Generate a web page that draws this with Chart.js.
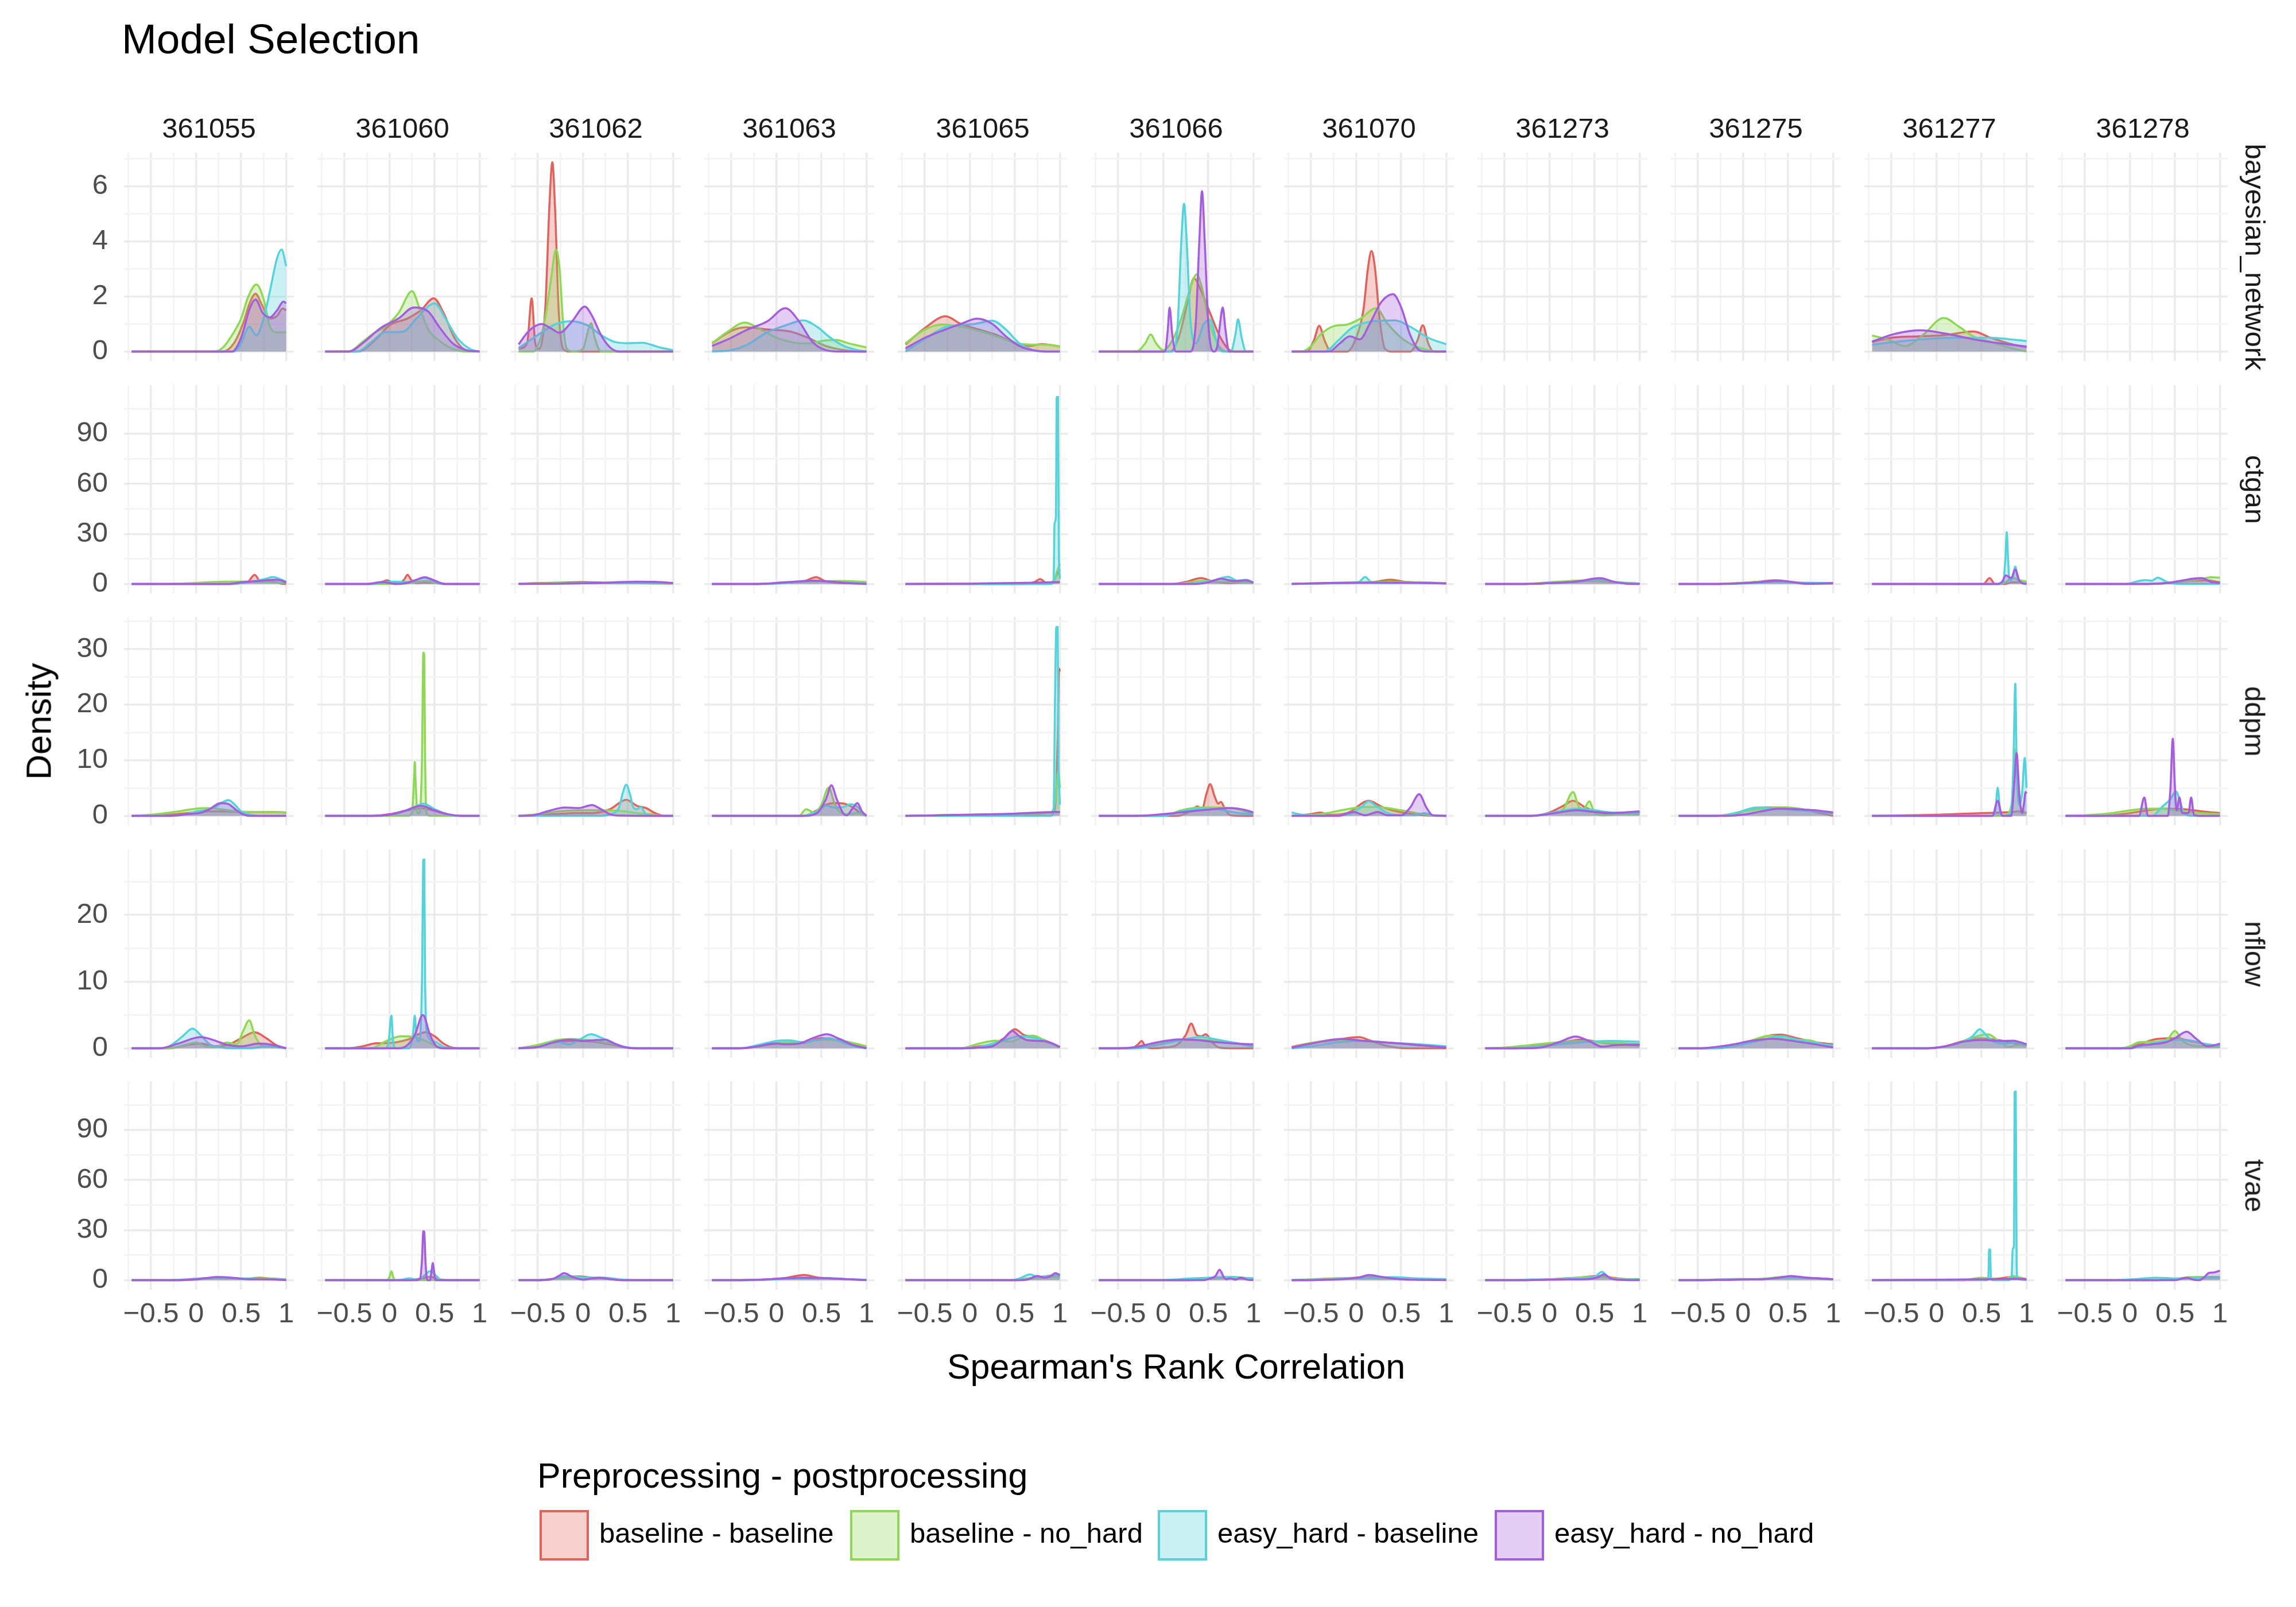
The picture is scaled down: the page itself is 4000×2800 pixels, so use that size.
<!DOCTYPE html>
<html>
<head>
<meta charset="utf-8">
<script src="https://cdn.jsdelivr.net/npm/chart.js@4.4.1/dist/chart.umd.min.js"></script>
<style>
  html, body { margin:0; padding:0; background:#fff; }
  body { width:4000px; height:2800px; position:relative; overflow:hidden; font-family:"Liberation Sans", Arial, sans-serif; }
  canvas { position:absolute; }
  .t { position:absolute; white-space:nowrap; line-height:1; }
</style>
</head>
<body>
<script>
// facet labels
const datasetIds = ['361055','361060','361062','361063','361065','361066','361070','361273','361275','361277','361278'];
const models = ['bayesian_network','ctgan','ddpm','nflow','tvae'];
const seriesNames = ['baseline - baseline','baseline - no_hard','easy_hard - baseline','easy_hard - no_hard'];

// axis ticks (grid positions) and the labelled ones
const xGrid = [-0.75,-0.5,-0.25,0,0.25,0.5,0.75,1];
const xMajor = [-0.5,0,0.5,1];
const yGrid = [[0,1,2,3,4,5,6,7],[0,15,30,45,60,75,90,105],[0,5,10,15,20,25,30,35],[0,5,10,15,20,25],[0,15,30,45,60,75,90,105]];
const yMajor = [[0,2,4,6],[0,30,60,90],[0,10,20,30],[0,10,20],[0,30,60,90]];
const yTop = [6.87, 113.5, 34.1, 28.4, 113.5];
const xLo = -0.715, xHi = 1.0;

// density curves, one entry per dataset id (null = no data), points are [x, density]
const bayesBB = [
  [[-0.715,0],[0.3,0],[0.42,0.3],[0.52,1.0],[0.6,1.8],[0.66,2.1],[0.73,1.7],[0.82,1.2],[0.9,1.3],[0.96,1.56],[1,1.5]],
  [[-0.715,0],[-0.35,0],[-0.15,0.45],[0,0.95],[0.2,1.2],[0.35,1.5],[0.49,1.93],[0.6,1.4],[0.72,0.5],[0.85,0.05],[1,0]],
  [[-0.715,0.1],[-0.62,0.3],[-0.57,1.93],[-0.53,0.3],[-0.49,0.1],[-0.42,1.5],[-0.37,5.5],[-0.34,6.87],[-0.31,5.2],[-0.27,1.5],[-0.22,0.1],[-0.15,0],[1,0]],
  [[-0.715,0.3],[-0.5,0.75],[-0.34,0.88],[-0.1,0.8],[0.15,0.73],[0.35,0.5],[0.55,0.2],[0.75,0.05],[0.9,0],[1,0]],
  [[-0.715,0.26],[-0.5,0.85],[-0.27,1.28],[-0.1,1.0],[0.1,0.8],[0.3,0.6],[0.5,0.3],[0.65,0.2],[0.8,0.27],[1,0.18]],
  [[-0.715,0],[0.08,0],[0.18,0.6],[0.27,1.8],[0.34,2.66],[0.42,2.2],[0.52,1.39],[0.62,0.6],[0.72,0.1],[0.8,0],[1,0]],
  [[-0.715,0],[-0.55,0],[-0.47,0.4],[-0.41,0.93],[-0.35,0.4],[-0.28,0],[-0.1,0],[0,0.5],[0.08,1.5],[0.13,3.0],[0.17,3.65],[0.21,3.0],[0.26,1.2],[0.32,0.1],[0.4,0],[0.6,0],[0.68,0.4],[0.74,0.95],[0.8,0.3],[0.86,0],[1,0]],
  null,
  null,
  [[-0.715,0.35],[-0.5,0.5],[-0.2,0.55],[0.1,0.6],[0.41,0.73],[0.6,0.5],[0.8,0.3],[1,0.15]],
  null
];
const bayesBN = [
  [[-0.715,0],[0.2,0],[0.3,0.15],[0.4,0.6],[0.5,1.2],[0.58,2.0],[0.67,2.43],[0.75,1.9],[0.82,0.9],[0.9,0.7],[1,0.7]],
  [[-0.715,0],[-0.45,0],[-0.3,0.35],[-0.18,0.65],[-0.05,0.9],[0.1,1.4],[0.25,2.19],[0.33,1.6],[0.43,0.8],[0.55,0.4],[0.7,0.1],[0.85,0],[1,0]],
  [[-0.715,0],[-0.55,0],[-0.48,0.4],[-0.42,1.2],[-0.36,2.5],[-0.3,3.7],[-0.26,3.0],[-0.22,1.0],[-0.18,0.1],[-0.1,0],[0,0.1],[0.06,0.8],[0.09,1.03],[0.13,0.5],[0.2,0],[1,0]],
  [[-0.715,0.3],[-0.55,0.7],[-0.35,1.05],[-0.2,0.85],[0,0.5],[0.2,0.32],[0.35,0.29],[0.5,0.38],[0.66,0.42],[0.8,0.3],[1,0.15]],
  [[-0.715,0.3],[-0.5,0.8],[-0.3,0.98],[-0.1,0.9],[0.1,0.75],[0.3,0.55],[0.5,0.32],[0.7,0.25],[0.85,0.25],[1,0.18]],
  [[-0.715,0],[-0.3,0],[-0.2,0.3],[-0.14,0.62],[-0.08,0.3],[0,0.05],[0.1,0.4],[0.2,1.2],[0.3,2.3],[0.37,2.8],[0.43,2.3],[0.5,1.2],[0.6,0.3],[0.7,0],[1,0]],
  [[-0.715,0],[-0.6,0],[-0.5,0.2],[-0.4,0.6],[-0.25,0.92],[-0.1,0.98],[0.05,1.2],[0.22,1.57],[0.35,1.0],[0.5,0.5],[0.65,0.2],[0.8,0.05],[0.9,0],[1,0]],
  null,
  null,
  [[-0.715,0.58],[-0.55,0.45],[-0.35,0.2],[-0.15,0.6],[0.08,1.22],[0.25,0.9],[0.41,0.55],[0.6,0.35],[0.8,0.15],[1,0]],
  null
];
const bayesEB = [
  [[-0.715,0],[0.42,0],[0.5,0.3],[0.59,0.9],[0.67,0.59],[0.75,1.2],[0.82,2.2],[0.9,3.4],[0.95,3.7],[1,3.1]],
  [[-0.715,0],[-0.35,0],[-0.2,0.35],[-0.05,0.7],[0.15,0.72],[0.3,1.2],[0.5,1.75],[0.62,1.2],[0.75,0.5],[0.9,0.08],[1,0]],
  [[-0.715,0.12],[-0.5,0.6],[-0.3,1.0],[-0.13,1.1],[0.05,0.95],[0.2,0.6],[0.35,0.35],[0.5,0.3],[0.66,0.32],[0.85,0.15],[1,0.05]],
  [[-0.715,0],[-0.5,0.05],[-0.34,0.22],[-0.1,0.7],[0.1,0.95],[0.3,1.13],[0.45,0.9],[0.6,0.5],[0.75,0.2],[0.9,0.05],[1,0]],
  [[-0.715,0],[-0.5,0.45],[-0.3,0.85],[-0.1,0.97],[0.05,1.0],[0.25,1.12],[0.4,0.8],[0.55,0.3],[0.7,0.05],[0.8,0],[1,0]],
  [[-0.715,0],[0.1,0],[0.16,1.0],[0.2,4.0],[0.23,5.36],[0.26,4.0],[0.3,1.2],[0.36,0.3],[0.45,1.0],[0.52,1.15],[0.6,0.3],[0.66,0],[0.75,0],[0.8,0.6],[0.83,1.17],[0.87,0.5],[0.92,0],[1,0]],
  [[-0.715,0],[-0.35,0],[-0.2,0.4],[-0.05,0.85],[0.15,1.08],[0.43,1.13],[0.6,0.9],[0.8,0.5],[1,0.26]],
  null,
  null,
  [[-0.715,0.25],[-0.3,0.4],[0.2,0.5],[0.6,0.5],[0.8,0.45],[1,0.38]],
  null
];
const bayesEN = [
  [[-0.715,0],[0.4,0],[0.5,0.5],[0.6,1.6],[0.66,1.89],[0.74,1.4],[0.82,1.24],[0.9,1.5],[0.97,1.81],[1,1.75]],
  [[-0.715,0],[-0.45,0],[-0.3,0.3],[-0.1,0.85],[0.1,1.2],[0.27,1.6],[0.43,1.45],[0.55,0.9],[0.7,0.3],[0.85,0.05],[1,0]],
  [[-0.715,0.26],[-0.6,0.75],[-0.46,1.0],[-0.36,0.85],[-0.26,0.68],[-0.12,1.1],[0.02,1.63],[0.1,1.3],[0.2,0.6],[0.3,0.15],[0.4,0],[1,0]],
  [[-0.715,0.2],[-0.5,0.5],[-0.34,0.77],[-0.1,1.1],[0.1,1.57],[0.25,1.1],[0.4,0.35],[0.55,0.05],[0.7,0],[1,0]],
  [[-0.715,0.11],[-0.5,0.5],[-0.27,0.8],[-0.1,1.0],[0.08,1.19],[0.25,1.0],[0.4,0.55],[0.55,0.2],[0.7,0.05],[0.85,0],[1,0]],
  [[-0.715,0],[0.02,0],[0.05,0.8],[0.07,1.6],[0.1,0.6],[0.14,0],[0.3,0],[0.36,1.0],[0.4,4.0],[0.43,5.82],[0.46,4.0],[0.5,1.0],[0.56,0],[0.6,0.2],[0.63,1.0],[0.66,1.6],[0.69,0.8],[0.73,0],[1,0]],
  [[-0.715,0],[-0.3,0],[-0.18,0.3],[-0.07,0.55],[0.04,0.44],[0.15,1.0],[0.28,1.8],[0.41,2.08],[0.5,1.6],[0.6,0.6],[0.7,0.05],[0.78,0],[1,0]],
  null,
  null,
  [[-0.715,0.36],[-0.45,0.65],[-0.18,0.77],[0.1,0.65],[0.4,0.45],[0.7,0.3],[1,0.18]],
  null
];

const ctganBB = [
  [[-0.715,0],[0.3,0],[0.5,0.5],[0.58,1.5],[0.65,5.5],[0.71,1.8],[0.8,1.5],[0.9,1.0],[0.95,0.2],[1,0]],
  [[-0.715,0],[-0.2,0],[-0.08,1.2],[-0.03,2.25],[0.03,1.0],[0.1,0.3],[0.16,2.5],[0.2,5.5],[0.24,2.5],[0.3,0.5],[0.4,0.8],[0.5,0.6],[0.6,0],[1,0]],
  [[-0.715,0.2],[-0.3,0.8],[0,1.1],[0.3,0.7],[0.6,0.4],[1,0.3]],
  [[-0.715,0],[-0.2,0],[0.1,0.8],[0.3,1.5],[0.44,4.0],[0.55,1.5],[0.7,0.5],[1,0.3]],
  [[-0.715,0],[0.6,0],[0.72,1.2],[0.78,2.9],[0.84,0.8],[0.88,0.3],[0.93,2],[0.97,6],[1,8.7]],
  [[-0.715,0],[0.1,0],[0.25,1.2],[0.42,3.5],[0.55,1.5],[0.74,0.5],[0.9,1.0],[1,0.8]],
  [[-0.715,0],[-0.4,0.3],[0,0.8],[0.2,1.2],[0.38,2.6],[0.55,1.2],[0.8,0.8],[1,0.3]],
  [[-0.715,0],[-0.3,0],[0,0.5],[0.3,1.5],[0.5,2.0],[0.7,1.0],[1,0.2]],
  [[-0.715,0],[-0.3,0],[0,0.6],[0.2,1.5],[0.37,2.2],[0.55,1.0],[0.7,0.2],[1,0.3]],
  [[-0.715,0],[0.52,0],[0.59,3.5],[0.65,0],[0.75,0],[0.85,1.0],[0.95,1.0],[1,0.5]],
  [[-0.715,0],[0.2,0],[0.45,0.8],[0.7,2.0],[0.85,2.2],[1,1.0]]
];
const ctganBN = [
  [[-0.715,0],[-0.3,0],[0,0.6],[0.3,1.4],[0.6,1.5],[0.8,1.0],[1,0.6]],
  [[-0.715,0],[0.1,0],[0.3,1.2],[0.4,1.8],[0.5,0.8],[0.6,0],[1,0]],
  [[-0.715,0.2],[-0.3,0.6],[0,0.5],[0.5,0.5],[1,0.3]],
  [[-0.715,0],[-0.2,0],[0.1,1.0],[0.4,1.5],[0.7,1.8],[1,1.2]],
  [[-0.715,0],[0.85,0],[0.93,1],[0.97,8],[1,12]],
  [[-0.715,0],[0.15,0],[0.3,1.0],[0.45,1.8],[0.6,1.5],[0.8,1.2],[1,0.5]],
  [[-0.715,0],[-0.4,0.5],[0,1.0],[0.4,1.3],[0.7,1.0],[1,0.5]],
  [[-0.715,0],[-0.3,0],[0,1.0],[0.3,2.0],[0.5,2.2],[0.7,1.2],[1,0.3]],
  [[-0.715,0],[-0.3,0],[0,0.8],[0.3,1.5],[0.5,1.2],[0.7,0.5],[1,0.3]],
  [[-0.715,0],[0.7,0],[0.78,1.5],[0.84,4.0],[0.9,2.5],[0.95,2.0],[1,1.5]],
  [[-0.715,0],[0.2,0],[0.45,0.5],[0.64,1.7],[0.8,3.0],[0.9,4.0],[1,3.8]]
];
const ctganEB = [
  [[-0.715,0],[0.4,0],[0.5,0.5],[0.65,1.8],[0.78,3.2],[0.85,4.2],[0.93,3.0],[1,1.4]],
  [[-0.715,0],[-0.2,0],[-0.05,1.2],[0.05,1.4],[0.2,1.2],[0.3,2.5],[0.39,3.8],[0.48,2.0],[0.57,0.2],[0.65,0],[1,0]],
  [[-0.715,0],[-0.3,0.2],[0,0.4],[0.4,0.8],[0.7,0.9],[1,0.4]],
  [[-0.715,0],[-0.1,0],[0.2,1.0],[0.45,1.8],[0.7,1.0],[1,0.3]],
  [[-0.715,0],[0.9,0],[0.93,2],[0.94,36],[0.955,40],[0.965,112],[0.978,112],[0.988,20],[1,3]],
  [[-0.715,0],[0.2,0],[0.4,0.8],[0.55,2.0],[0.72,4.3],[0.82,2.0],[0.92,2.5],[1,1.0]],
  [[-0.715,0],[-0.4,0.3],[-0.1,0.7],[0.03,1.2],[0.1,4.2],[0.17,1.0],[0.3,0.6],[0.6,0.7],[1,0.4]],
  [[-0.715,0],[-0.3,0],[0,0.5],[0.3,1.2],[0.56,3.0],[0.75,1.0],[1,0.2]],
  [[-0.715,0],[-0.2,0],[0.1,0.5],[0.4,1.2],[0.6,0.8],[0.8,0.7],[1,0.5]],
  [[-0.715,0],[0.7,0],[0.74,1],[0.765,15],[0.78,31],[0.795,15],[0.81,2],[0.84,3],[0.875,10.4],[0.9,4],[0.93,1],[1,0.5]],
  [[-0.715,0],[-0.05,0],[0.1,1.8],[0.17,2.3],[0.24,2.0],[0.31,3.8],[0.4,1.5],[0.5,0.2],[0.7,0],[1,0]]
];
const ctganEN = [
  [[-0.715,0],[0.35,0],[0.5,1.0],[0.7,1.8],[0.89,2.6],[0.95,2.0],[1,0.9]],
  [[-0.715,0],[-0.25,0],[-0.08,1.2],[0.08,0],[0.2,0.8],[0.3,2.5],[0.39,4.0],[0.48,2.5],[0.57,0.5],[0.62,0],[1,0]],
  [[-0.715,0],[-0.3,0.2],[0,0.4],[0.3,0.9],[0.6,1.4],[0.8,1.3],[1,0.6]],
  [[-0.715,0],[-0.2,0],[0.1,1.0],[0.4,2.0],[0.6,1.5],[0.8,0.5],[1,0]],
  [[-0.715,0],[0,0.2],[0.9,1.0],[1,1.2]],
  [[-0.715,0],[0.35,0],[0.5,1.0],[0.64,3.1],[0.8,1.7],[0.92,2.2],[1,0.8]],
  [[-0.715,0.1],[-0.3,0.6],[0.3,0.9],[0.7,0.7],[1,0.3]],
  [[-0.715,0],[-0.3,0],[0,0.5],[0.3,1.5],[0.56,3.5],[0.7,1.5],[0.85,0.2],[1,0]],
  [[-0.715,0],[-0.3,0],[0,0.5],[0.2,1.2],[0.4,2.0],[0.55,1.2],[0.7,0.2],[0.85,0.3],[1,0.5]],
  [[-0.715,0],[0.68,0],[0.73,1.5],[0.77,5.2],[0.83,3.5],[0.875,8.7],[0.92,2.0],[0.96,0.3],[1,0]],
  [[-0.715,0],[0.2,0],[0.4,0.5],[0.55,1.8],[0.7,3.2],[0.8,3.5],[0.9,1.2],[1,0.7]]
];

const ddpmBB = [
  [[-0.715,0],[-0.4,0.1],[-0.1,0.5],[0.1,0.8],[0.3,0.8],[0.5,0.7],[0.8,0.7],[1,0.6]],
  [[-0.715,0],[-0.2,0],[0,0.3],[0.2,1.0],[0.35,1.4],[0.5,0.9],[0.65,0.2],[0.8,0],[1,0]],
  [[-0.715,0],[-0.5,0.1],[-0.3,0.3],[-0.1,0.5],[0.1,0.5],[0.3,1.2],[0.48,2.9],[0.6,1.8],[0.7,1.4],[0.8,0.5],[0.9,0],[1,0]],
  [[-0.715,0],[0.3,0],[0.45,1.0],[0.55,2.0],[0.65,2.3],[0.75,2.2],[0.85,1.5],[0.95,0.3],[1,0]],
  [[-0.715,0],[0.5,0.3],[0.9,0.6],[0.94,1],[0.96,5],[0.975,14],[0.99,26.5],[1,26]],
  [[-0.715,0],[0.15,0],[0.3,0.8],[0.38,1.7],[0.43,1.2],[0.48,4.0],[0.52,5.7],[0.57,3.5],[0.61,2.2],[0.64,2.5],[0.69,1.0],[0.75,0.1],[1,0]],
  [[-0.715,0],[-0.5,0.3],[-0.4,0.6],[-0.3,0.2],[-0.1,0.5],[0.14,2.7],[0.3,1.5],[0.45,0.8],[0.6,0.4],[0.75,0.1],[1,0]],
  [[-0.715,0],[-0.2,0],[0,0.6],[0.15,1.8],[0.26,2.7],[0.4,1.5],[0.55,0.6],[0.7,0.3],[1,0.5]],
  [[-0.715,0],[-0.3,0],[-0.1,0.3],[0.1,1.3],[0.25,1.5],[0.45,1.5],[0.7,1.0],[1,0]],
  [[-0.715,0],[0,0.2],[0.5,0.5],[0.85,0.7],[0.9,0.8],[1,0.5]],
  [[-0.715,0],[-0.3,0],[0,0.5],[0.2,1.0],[0.35,1.3],[0.6,1.2],[0.8,0.8],[1,0.5]]
];
const ddpmBN = [
  [[-0.715,0],[-0.5,0.2],[-0.2,0.8],[0,1.3],[0.15,1.4],[0.35,1.0],[0.6,0.7],[0.8,0.7],[1,0.6]],
  [[-0.715,0],[0.2,0],[0.25,0.5],[0.27,6],[0.28,9.7],[0.29,6],[0.31,0.5],[0.33,0.5],[0.36,10],[0.375,29.4],[0.385,29],[0.395,10],[0.41,0.5],[0.45,0],[1,0]],
  [[-0.715,0],[-0.5,0.3],[-0.2,0.9],[0.1,1.0],[0.4,0.9],[0.6,0.5],[0.75,0.3],[0.9,0],[1,0]],
  [[-0.715,0],[0.25,0],[0.33,1.2],[0.42,0.6],[0.5,2.0],[0.58,5.1],[0.65,2.0],[0.72,0.5],[0.8,0.3],[0.9,0.5],[1,0]],
  [[-0.715,0],[0.5,0.3],[0.9,0.6],[0.95,3],[0.98,8],[1,5]],
  [[-0.715,0],[0,0],[0.2,1.0],[0.4,1.5],[0.6,1.5],[0.8,1.3],[0.95,0.6],[1,0.3]],
  [[-0.715,0],[-0.4,0.3],[-0.1,1.2],[0.1,1.6],[0.3,1.5],[0.5,1.0],[0.7,0.4],[0.9,0],[1,0]],
  [[-0.715,0],[-0.2,0],[0,0.5],[0.15,1.2],[0.26,4.3],[0.33,1.5],[0.38,1.3],[0.44,2.6],[0.5,0.6],[0.6,0.1],[0.8,0.3],[1,0.3]],
  [[-0.715,0],[-0.3,0],[0,0.8],[0.3,1.4],[0.5,1.5],[0.7,1.1],[1,0.5]],
  [[-0.715,0],[0.7,0],[0.8,0.5],[0.85,4],[0.88,12],[0.91,3],[1,0.5]],
  [[-0.715,0],[-0.5,0.1],[-0.2,0.5],[0.1,1.2],[0.3,1.3],[0.5,1.0],[0.7,0.6],[1,0.3]]
];
const ddpmEB = [
  [[-0.715,0],[-0.3,0],[-0.1,0.3],[0,0.8],[0.1,1.0],[0.2,1.5],[0.3,2.5],[0.36,2.84],[0.43,2.0],[0.5,0.8],[0.6,0.2],[0.7,0],[1,0]],
  [[-0.715,0],[-0.1,0],[0.1,0.5],[0.25,1.4],[0.38,2.2],[0.5,1.2],[0.65,0.2],[0.8,0],[1,0]],
  [[-0.715,0],[0.2,0],[0.3,0.3],[0.4,1.5],[0.44,4.0],[0.48,5.6],[0.52,4.0],[0.56,1.5],[0.6,1.2],[0.64,1.6],[0.7,0.3],[0.8,0],[1,0]],
  [[-0.715,0],[0.3,0],[0.45,0.8],[0.55,1.8],[0.65,1.5],[0.75,1.6],[0.82,2.1],[0.9,1.6],[0.96,0.5],[1,0]],
  [[-0.715,0],[0.9,0],[0.93,1],[0.945,20],[0.96,34],[0.975,34],[0.985,10],[1,2]],
  [[-0.715,0],[0,0],[0.2,0.8],[0.4,1.3],[0.6,1.2],[0.8,0.6],[1,0.3]],
  [[-0.715,0.6],[-0.6,0.2],[-0.4,0],[-0.1,0.2],[0.05,1.5],[0.14,2.6],[0.22,1.8],[0.35,0.5],[0.5,0.1],[0.65,0.1],[0.76,0.5],[0.85,0.1],[1,0]],
  [[-0.715,0],[-0.2,0],[0.1,0.8],[0.3,1.3],[0.5,1.0],[0.7,0.6],[1,0.6]],
  [[-0.715,0],[-0.3,0],[-0.1,0.4],[0.15,1.5],[0.35,1.3],[0.6,1.0],[0.8,0.8],[1,0.5]],
  [[-0.715,0],[0.6,0],[0.65,0.5],[0.68,5.1],[0.71,0.5],[0.78,0],[0.83,1],[0.855,10],[0.875,23.8],[0.89,10],[0.92,2],[0.95,4],[0.98,10.4],[1,5]],
  [[-0.715,0],[0.25,0],[0.35,1.5],[0.45,3.0],[0.51,4.4],[0.56,2.5],[0.6,0.5],[0.7,0],[1,0]]
];
const ddpmEN = [
  [[-0.715,0],[-0.3,0],[-0.1,0.3],[0.05,0.55],[0.15,1.2],[0.27,2.3],[0.36,2.1],[0.45,1.0],[0.52,0.3],[0.6,0],[1,0]],
  [[-0.715,0],[-0.2,0],[0,0.2],[0.15,0.8],[0.35,1.8],[0.5,1.0],[0.65,0.3],[0.8,0],[1,0]],
  [[-0.715,0],[-0.55,0.1],[-0.4,0.8],[-0.2,1.5],[-0.05,1.4],[0.1,1.95],[0.2,1.2],[0.3,0.3],[0.4,0.05],[1,0]],
  [[-0.715,0],[0.3,0],[0.45,0.5],[0.55,3.0],[0.61,5.5],[0.67,3.0],[0.74,0.5],[0.78,0.1],[0.84,1.2],[0.9,2.3],[0.95,0.8],[1,0]],
  [[-0.715,0],[0,0.2],[0.5,0.4],[0.95,0.7],[1,0.7]],
  [[-0.715,0],[-0.3,0],[0,0.3],[0.3,0.8],[0.55,1.2],[0.75,1.4],[0.9,1.1],[1,0.6]],
  [[-0.715,0],[-0.2,0],[-0.03,0.7],[0.1,0.1],[0.24,0.7],[0.35,0.1],[0.5,0.1],[0.6,1.5],[0.7,3.9],[0.78,1.5],[0.85,0.1],[1,0]],
  [[-0.715,0],[-0.2,0],[0.1,0.6],[0.3,1.0],[0.5,0.7],[0.7,0.5],[0.9,0.7],[1,0.8]],
  [[-0.715,0],[-0.2,0],[0,0.2],[0.2,0.8],[0.4,1.3],[0.6,1.2],[0.8,1.0],[1,0.6]],
  [[-0.715,0],[0.62,0],[0.68,2.7],[0.73,0],[0.83,0],[0.86,5],[0.89,11.3],[0.92,4],[0.95,0.5],[0.97,2],[0.99,4.3],[1,4]],
  [[-0.715,0],[0.1,0],[0.16,3.3],[0.2,0],[0.42,0],[0.45,5],[0.476,13.9],[0.5,5],[0.52,1],[0.55,3.3],[0.58,0.5],[0.65,0.5],[0.68,3.3],[0.71,0.2],[0.8,0],[1,0]]
];

const nflowBB = [
  [[-0.715,0],[-0.3,0],[-0.1,0.5],[0.05,0.7],[0.2,0.3],[0.35,0.5],[0.5,1.5],[0.65,2.4],[0.78,1.5],[0.9,0.4],[1,0]],
  [[-0.715,0],[-0.45,0],[-0.3,0.3],[-0.15,0.75],[0,0.8],[0.2,1.3],[0.4,2.4],[0.5,1.8],[0.6,0.7],[0.7,0.1],[0.8,0],[1,0]],
  [[-0.715,0],[-0.5,0.3],[-0.3,0.9],[-0.1,1.1],[0.1,1.0],[0.3,0.6],[0.45,0.2],[0.6,0],[1,0]],
  [[-0.715,0],[-0.4,0],[-0.1,0.5],[0.1,0.8],[0.3,0.8],[0.5,1.5],[0.65,1.3],[0.85,0.6],[1,0.1]],
  [[-0.715,0],[-0.1,0],[0.1,0.3],[0.25,0.6],[0.38,1.5],[0.5,2.86],[0.6,2.0],[0.75,1.6],[0.9,0.8],[1,0.2]],
  [[-0.715,0],[-0.35,0],[-0.28,0.6],[-0.24,1.1],[-0.2,0.3],[-0.12,0],[0,0.1],[0.15,0.5],[0.25,2.0],[0.31,3.7],[0.37,2.0],[0.42,1.8],[0.47,2.1],[0.55,0.8],[0.62,0.1],[0.75,0],[1,0]],
  [[-0.715,0.2],[-0.5,0.8],[-0.25,1.2],[0.03,1.67],[0.15,1.2],[0.3,0.5],[0.45,0.1],[0.6,0],[1,0]],
  [[-0.715,0],[-0.4,0],[-0.1,0.4],[0.2,1.0],[0.35,1.3],[0.6,0.8],[1,0.4]],
  [[-0.715,0],[-0.4,0],[-0.1,0.3],[0.1,1.0],[0.25,1.8],[0.42,2.05],[0.6,1.5],[0.8,0.9],[1,0.6]],
  [[-0.715,0],[-0.1,0],[0.1,0.3],[0.3,1.1],[0.5,1.5],[0.7,1.2],[0.85,0.8],[1,0.4]],
  [[-0.715,0],[-0.1,0],[0.1,0.6],[0.3,1.4],[0.5,1.5],[0.7,1.0],[0.9,0.5],[1,0.3]]
];
const nflowBN = [
  [[-0.715,0],[-0.3,0],[-0.1,0.6],[0,0.86],[0.1,0.3],[0.22,0.2],[0.34,0.86],[0.45,0.6],[0.52,2.5],[0.59,4.2],[0.65,2.0],[0.72,0.5],[0.85,0.2],[1,0]],
  [[-0.715,0],[-0.2,0],[-0.05,1.0],[0.13,1.8],[0.3,1.6],[0.45,0.8],[0.6,0],[1,0]],
  [[-0.715,0],[-0.5,0.5],[-0.3,1.2],[-0.15,1.4],[0,1.3],[0.2,1.0],[0.35,0.6],[0.5,0.1],[0.6,0],[1,0]],
  [[-0.715,0],[-0.4,0],[-0.1,0.6],[0.1,0.9],[0.3,0.9],[0.5,1.3],[0.7,1.2],[0.85,0.8],[1,0.3]],
  [[-0.715,0],[-0.1,0],[0.1,0.7],[0.29,1.14],[0.45,1.0],[0.6,1.7],[0.7,1.9],[0.85,1.0],[1,0.1]],
  [[-0.715,0],[-0.3,0],[-0.1,0.5],[0.2,1.2],[0.45,1.3],[0.65,1.0],[0.85,0.7],[1,0.3]],
  [[-0.715,0.1],[-0.5,0.8],[-0.2,1.3],[0.1,1.1],[0.4,0.8],[0.7,0.5],[1,0.2]],
  [[-0.715,0],[-0.5,0.1],[-0.2,0.5],[0.1,0.9],[0.3,1.1],[0.6,0.9],[1,0.6]],
  [[-0.715,0],[-0.4,0],[-0.1,0.3],[0.1,1.2],[0.3,1.9],[0.5,1.3],[0.73,1.2],[0.9,0.5],[1,0.2]],
  [[-0.715,0],[-0.1,0],[0.1,0.3],[0.3,1.1],[0.45,1.8],[0.57,2.1],[0.7,1.0],[0.8,0.2],[0.9,0.5],[1,0.5]],
  [[-0.715,0],[-0.1,0],[0,0.3],[0.1,0.9],[0.3,1.0],[0.42,1.4],[0.5,2.6],[0.58,1.2],[0.7,0.4],[0.85,0.3],[1,0.2]]
];
const nflowEB = [
  [[-0.715,0],[-0.45,0],[-0.3,0.3],[-0.15,1.8],[-0.04,2.95],[0.05,2.0],[0.15,0.6],[0.25,0.2],[0.4,0],[0.6,0],[0.8,0.3],[1,0]],
  [[-0.715,0],[-0.05,0],[-0.01,1],[0.02,4.9],[0.04,1],[0.07,0],[0.22,0],[0.26,2],[0.28,4.9],[0.3,1.5],[0.33,1],[0.36,10],[0.375,28.3],[0.385,28.3],[0.395,10],[0.42,2],[0.5,1.0],[0.6,0.2],[0.7,0],[1,0]],
  [[-0.715,0],[-0.5,0.2],[-0.3,1.0],[-0.15,0.6],[-0.05,1.2],[0.09,2.1],[0.2,1.6],[0.35,0.7],[0.5,0.1],[0.6,0],[1,0]],
  [[-0.715,0],[-0.4,0],[-0.2,0.5],[0,1.1],[0.13,1.2],[0.3,0.9],[0.45,1.2],[0.58,1.5],[0.75,0.8],[0.9,0.2],[1,0]],
  [[-0.715,0],[0,0],[0.2,0.5],[0.4,1.3],[0.55,1.8],[0.7,1.6],[0.85,1.0],[1,0.2]],
  [[-0.715,0],[-0.3,0],[-0.1,0.4],[0.15,1.1],[0.42,1.7],[0.6,1.3],[0.8,0.8],[1,0.2]],
  [[-0.715,0],[-0.5,0.3],[-0.2,0.9],[0.1,1.1],[0.4,0.8],[0.7,0.6],[1,0.3]],
  [[-0.715,0],[-0.4,0],[-0.1,0.3],[0.2,0.7],[0.45,1.0],[0.7,1.1],[1,1.0]],
  [[-0.715,0],[-0.3,0],[0,0.6],[0.2,1.2],[0.42,1.8],[0.6,1.3],[0.8,0.8],[1,0.4]],
  [[-0.715,0],[-0.1,0],[0.1,0.3],[0.3,1.0],[0.4,1.8],[0.48,2.86],[0.55,2.0],[0.63,1.0],[0.75,0.7],[0.9,0.9],[1,0.4]],
  [[-0.715,0],[0,0],[0.15,0.4],[0.35,1.0],[0.55,1.3],[0.7,1.1],[0.85,0.6],[1,0.4]]
];
const nflowEN = [
  [[-0.715,0],[-0.4,0],[-0.2,0.7],[0.05,1.67],[0.2,1.2],[0.35,0.5],[0.5,0.3],[0.7,0.7],[0.85,0.5],[1,0]],
  [[-0.715,0],[0.1,0],[0.2,0.5],[0.28,2.0],[0.37,5.0],[0.45,2.0],[0.52,0.3],[0.6,0],[1,0]],
  [[-0.715,0],[-0.5,0.2],[-0.3,1.0],[-0.15,1.3],[0,1.1],[0.12,1.2],[0.25,1.3],[0.35,0.7],[0.45,0.2],[0.6,0],[1,0]],
  [[-0.715,0],[-0.4,0],[-0.2,0.3],[-0.1,0.6],[0,0.7],[0.1,0.6],[0.25,0.7],[0.4,1.5],[0.56,2.1],[0.7,1.4],[0.85,0.5],[1,0]],
  [[-0.715,0],[-0.1,0],[0.1,0.1],[0.25,0.3],[0.38,1.5],[0.47,2.6],[0.55,1.8],[0.64,1.2],[0.8,1.1],[0.9,0.8],[1,0.2]],
  [[-0.715,0],[-0.5,0],[-0.3,0.2],[-0.1,0.8],[0.18,1.33],[0.4,1.2],[0.6,0.9],[0.8,0.7],[1,0.6]],
  [[-0.715,0.1],[-0.5,0.7],[-0.16,1.4],[0.1,1.1],[0.3,0.9],[0.5,0.7],[0.75,0.4],[1,0.1]],
  [[-0.715,0],[-0.3,0],[-0.1,0.1],[0.1,0.9],[0.29,1.76],[0.45,1.0],[0.58,0.25],[0.75,0.5],[1,0.55]],
  [[-0.715,0],[-0.5,0],[-0.3,0.2],[-0.1,0.6],[0.08,1.1],[0.33,1.43],[0.6,1.0],[0.82,0.55],[1,0.1]],
  [[-0.715,0],[-0.1,0],[0.1,0.3],[0.3,1.0],[0.5,1.25],[0.7,1.1],[0.85,1.15],[1,0.6]],
  [[-0.715,0],[0,0],[0.1,0.4],[0.25,0.6],[0.4,0.9],[0.5,1.5],[0.63,2.5],[0.73,1.5],[0.86,0.3],[0.95,0.5],[1,0.7]]
];

const tvaeBB = [
  [[-0.715,0],[-0.2,0],[0,0.3],[0.2,1.3],[0.4,1.2],[0.55,0.8],[0.7,1.5],[0.85,0.8],[1,0.2]],
  [[-0.715,0],[0.2,0],[0.35,1.0],[0.45,2.0],[0.55,0.5],[0.65,0],[1,0]],
  [[-0.715,0],[-0.5,0],[-0.35,0.7],[-0.2,2.0],[-0.05,2.2],[0.1,1.5],[0.3,0.7],[0.45,0],[1,0]],
  [[-0.715,0],[-0.4,0],[-0.1,0.4],[0.1,1.3],[0.31,3.1],[0.45,1.6],[0.6,1.0],[0.8,0.5],[1,0.2]],
  [[-0.715,0],[0.5,0],[0.65,1.0],[0.8,2.0],[0.95,3.0],[1,2.5]],
  [[-0.715,0],[0.3,0],[0.5,0.8],[0.65,1.5],[0.85,1.0],[1,0.5]],
  [[-0.715,0],[-0.4,0.2],[-0.1,1.0],[0.1,1.8],[0.3,1.2],[0.6,0.5],[1,0.2]],
  [[-0.715,0],[-0.3,0],[0,0.5],[0.3,1.5],[0.55,2.5],[0.7,1.5],[0.85,0.6],[1,0.5]],
  [[-0.715,0],[-0.5,0],[-0.2,0.3],[0.2,0.6],[0.5,1.8],[0.7,1.5],[1,0.5]],
  [[-0.715,0],[0.3,0],[0.5,1.2],[0.65,0.8],[0.85,2.0],[0.93,1.5],[1,0.5]],
  [[-0.715,0],[0.3,0],[0.55,0.8],[0.75,1.5],[0.9,1.5],[1,1.5]]
];
const tvaeBN = [
  [[-0.715,0],[-0.2,0],[0,0.5],[0.2,1.0],[0.5,1.0],[0.8,1.0],[1,0.5]],
  [[-0.715,0],[-0.03,0],[0,2],[0.02,5.4],[0.04,2],[0.06,0],[1,0]],
  [[-0.715,0],[-0.5,0],[-0.3,1.0],[-0.1,1.5],[0.1,1.5],[0.3,0.8],[0.5,0],[1,0]],
  [[-0.715,0],[-0.4,0],[-0.1,0.4],[0.2,1.2],[0.4,1.4],[0.6,1.0],[0.8,0.5],[1,0.2]],
  [[-0.715,0],[0.5,0],[0.65,1.0],[0.8,1.5],[0.95,2.0],[1,1.8]],
  [[-0.715,0],[0.2,0],[0.4,0.5],[0.6,1.5],[0.75,2.0],[0.9,1.5],[1,1.0]],
  [[-0.715,0],[-0.5,0.5],[-0.2,1.2],[0.1,1.5],[0.3,1.0],[0.6,0.5],[1,0.2]],
  [[-0.715,0],[-0.3,0],[0,0.5],[0.3,1.5],[0.5,2.0],[0.65,1.5],[0.85,0.5],[1,0.2]],
  [[-0.715,0],[-0.5,0],[-0.2,0.6],[0.2,0.8],[0.45,2.0],[0.6,1.5],[0.8,1.0],[1,0.3]],
  [[-0.715,0],[0.3,0],[0.5,1.5],[0.6,1.0],[0.75,0.5],[0.85,2.5],[0.92,1.5],[1,0.5]],
  [[-0.715,0],[0.3,0],[0.5,0.5],[0.65,1.8],[0.85,2.0],[1,2.0]]
];
const tvaeEB = [
  [[-0.715,0],[-0.3,0],[-0.1,0.5],[0.1,1.2],[0.3,1.5],[0.5,1.0],[0.7,0.6],[1,0.2]],
  [[-0.715,0],[0.1,0],[0.22,1.1],[0.3,0.3],[0.36,1.5],[0.45,5.4],[0.52,2.5],[0.58,0],[1,0]],
  [[-0.715,0],[-0.5,0],[-0.35,0.5],[-0.2,2.5],[-0.05,1.8],[0.1,1.4],[0.25,1.5],[0.4,0.5],[0.55,0],[1,0]],
  [[-0.715,0],[-0.4,0],[-0.1,0.3],[0.2,1.0],[0.4,1.3],[0.6,1.2],[0.8,0.6],[1,0.2]],
  [[-0.715,0],[0.45,0],[0.55,1.0],[0.67,3.4],[0.75,2.0],[0.85,2.3],[0.95,3.0],[1,2.5]],
  [[-0.715,0],[-0.2,0],[0.1,0.3],[0.3,1.0],[0.5,1.5],[0.7,1.8],[0.85,1.5],[1,1.0]],
  [[-0.715,0],[-0.4,0.3],[-0.1,1.0],[0.2,1.5],[0.4,1.8],[0.7,1.0],[1,0.6]],
  [[-0.715,0],[-0.4,0],[-0.2,0.4],[0,0.5],[0.3,1.0],[0.5,2.0],[0.58,5.0],[0.65,2.0],[0.75,0.2],[1,0.2]],
  [[-0.715,0],[-0.5,0],[-0.1,0.3],[0.2,0.6],[0.5,1.5],[0.75,1.4],[1,0.6]],
  [[-0.715,0],[0.55,0],[0.575,1],[0.585,18.4],[0.595,18.4],[0.605,1],[0.63,0],[0.8,0],[0.835,2],[0.845,18.8],[0.86,20],[0.868,113],[0.88,113],[0.89,10],[0.9,1],[0.95,0.3],[1,0]],
  [[-0.715,0],[-0.2,0],[0.1,0.8],[0.3,1.5],[0.5,1.0],[0.7,1.3],[0.9,1.5],[1,1.5]]
];
const tvaeEN = [
  [[-0.715,0],[-0.2,0],[0,0.5],[0.15,1.5],[0.22,1.9],[0.4,1.5],[0.55,0.6],[0.7,0.5],[0.85,0.4],[1,0]],
  [[-0.715,0],[0.3,0],[0.34,1],[0.36,12],[0.375,29.3],[0.385,29],[0.4,10],[0.42,0],[0.45,0],[0.465,5],[0.48,10.2],[0.495,5],[0.51,0],[1,0]],
  [[-0.715,0],[-0.5,0],[-0.35,0.5],[-0.27,2.5],[-0.21,4.2],[-0.12,2.0],[0,0.3],[0.1,1.0],[0.18,1.5],[0.3,0.6],[0.45,0],[1,0]],
  [[-0.715,0],[-0.4,0],[-0.1,0.5],[0.1,1.2],[0.3,1.5],[0.5,1.3],[0.7,0.8],[0.9,0.3],[1,0]],
  [[-0.715,0],[0.55,0],[0.65,0.5],[0.75,2.5],[0.83,1.5],[0.9,2.5],[0.95,4.2],[1,3.1]],
  [[-0.715,0],[0.45,0],[0.52,1.0],[0.58,2.5],[0.625,6.3],[0.67,2.0],[0.7,0.5],[0.74,1.1],[0.8,0.3],[0.86,1.5],[0.93,0.3],[1,0]],
  [[-0.715,0],[-0.5,0],[-0.3,0.3],[-0.1,0.8],[0.05,1.8],[0.14,3.1],[0.3,1.8],[0.5,0.5],[0.7,0.2],[1,0]],
  [[-0.715,0],[-0.3,0],[0,0.3],[0.2,0.4],[0.4,0.5],[0.55,2.0],[0.6,3.5],[0.68,1.0],[0.8,0.2],[1,0]],
  [[-0.715,0],[-0.5,0],[-0.2,0.2],[0,0.4],[0.2,0.5],[0.4,1.5],[0.53,2.5],[0.7,1.5],[0.85,1.0],[1,0.6]],
  [[-0.715,0],[0,0.3],[0.5,0.5],[0.9,0.8],[1,0.5]],
  [[-0.715,0],[0.5,0],[0.6,1.2],[0.64,1.5],[0.7,0.3],[0.77,0],[0.82,1.5],[0.88,4.4],[0.93,4.6],[1,5.7]]
];

const curvesByModel = [
  [bayesBB, bayesBN, bayesEB, bayesEN],
  [ctganBB, ctganBN, ctganEB, ctganEN],
  [ddpmBB, ddpmBN, ddpmEB, ddpmEN],
  [nflowBB, nflowBN, nflowEB, nflowEN],
  [tvaeBB, tvaeBN, tvaeEB, tvaeEN]
];

const lineColors = ['#E0625A', '#8FD856', '#55D2DA', '#A45DDD'];
const fillColors = ['rgba(224,98,90,0.3)', 'rgba(143,216,86,0.3)', 'rgba(85,210,218,0.3)', 'rgba(164,93,221,0.3)'];

// layout in page pixels
const panelLeft = 216, panelTop = 266, panelW = 296, panelH = 363;
const colStep = 336.9, rowStep = 404.5;
const margin = 70, yAxisW = 140, xAxisH = 90;
const fontFamily = '"Liberation Sans", Arial, sans-serif';
const majorGrid = '#EBEBEB', minorGrid = '#F4F4F4';

Chart.defaults.font.family = fontFamily;

const addText = (txt, x, y, size, color, rot) => {
  const d = document.createElement('div');
  d.className = 't';
  d.textContent = txt;
  d.style.left = x + 'px';
  d.style.top = y + 'px';
  d.style.fontSize = size + 'px';
  d.style.color = color;
  d.style.transform = 'translate(-50%,-50%)' + (rot ? ` rotate(${rot}deg)` : '');
  document.body.appendChild(d);
  return d;
};
const fmtX = v => String(v).replace('-', '\u2212');

const makePanel = (r, c) => {
  const L = Math.round(panelLeft + c * colStep);
  const T = Math.round(panelTop + r * rowStep);
  const isLeft = c === 0, isBottom = r === models.length - 1;
  const aw = isLeft ? yAxisW : 0, ah = isBottom ? xAxisH : 0;
  const cv = document.createElement('canvas');
  cv.width = panelW + aw + 2 * margin;
  cv.height = panelH + ah + 2 * margin;
  cv.style.left = (L - aw - margin) + 'px';
  cv.style.top = (T - margin) + 'px';
  document.body.appendChild(cv);

  const datasets = [];
  curvesByModel[r].forEach((series, s) => {
    const pts = series[c];
    if (!pts) return;
    datasets.push({
      label: seriesNames[s],
      data: pts.map(p => ({ x: p[0], y: p[1] })),
      borderColor: lineColors[s],
      backgroundColor: fillColors[s],
      fill: 'origin',
      order: 4 - s
    });
  });

  const pad = 0.05 * (xHi - xLo);
  const top = yTop[r];
  const yG = yGrid[r], yM = yMajor[r];
  new Chart(cv, {
    type: 'line',
    data: { datasets },
    options: {
      responsive: false,
      animation: false,
      devicePixelRatio: 1,
      layout: { padding: margin },
      plugins: { legend: { display: false }, tooltip: { enabled: false } },
      elements: {
        point: { radius: 0 },
        line: { borderWidth: 3.5, cubicInterpolationMode: 'monotone' }
      },
      scales: {
        x: {
          type: 'linear',
          min: xLo - pad,
          max: xHi + pad,
          afterBuildTicks: s => { s.ticks = xGrid.map(v => ({ value: v })); },
          afterFit: s => { s.height = ah; },
          border: { display: false },
          grid: {
            drawTicks: false,
            color: ctx => xMajor.includes(ctx.tick.value) ? majorGrid : minorGrid,
            lineWidth: ctx => xMajor.includes(ctx.tick.value) ? 3.5 : 3
          },
          ticks: {
            display: isBottom,
            autoSkip: false,
            maxRotation: 0,
            minRotation: 0,
            padding: 14,
            color: '#4D4D4D',
            font: { size: 49 },
            callback: v => xMajor.includes(v) ? fmtX(v) : ''
          }
        },
        y: {
          type: 'linear',
          min: -0.05 * top,
          max: 1.05 * top,
          afterBuildTicks: s => { s.ticks = yG.map(v => ({ value: v })); },
          afterFit: s => { s.width = aw; },
          border: { display: false },
          grid: {
            drawTicks: false,
            color: ctx => yM.includes(ctx.tick.value) ? majorGrid : minorGrid,
            lineWidth: ctx => yM.includes(ctx.tick.value) ? 3.5 : 3
          },
          ticks: {
            display: isLeft,
            autoSkip: false,
            padding: 28,
            color: '#4D4D4D',
            font: { size: 49 },
            callback: v => yM.includes(v) ? String(v) : ''
          }
        }
      }
    }
  });
};

for (let r = 0; r < models.length; r++) {
  for (let c = 0; c < datasetIds.length; c++) makePanel(r, c);
}

// strip labels
datasetIds.forEach((id, c) => {
  addText(id, Math.round(panelLeft + c * colStep) + panelW / 2, 223, 49, '#1A1A1A');
});
models.forEach((m, r) => {
  addText(m, 3928, Math.round(panelTop + r * rowStep) + panelH / 2, 49, '#1A1A1A', 90);
});

// titles
const title = document.createElement('div');
title.className = 't';
title.textContent = 'Model Selection';
title.style.cssText = 'left:212px;top:67px;font-size:73px;color:#000;transform:translateY(-50%);';
document.body.appendChild(title);
addText('Density', 68, 1257, 61, '#000', -90);
addText("Spearman's Rank Correlation", 2049, 2381, 61, '#000');

// legend
const legTitle = document.createElement('div');
legTitle.className = 't';
legTitle.textContent = 'Preprocessing - postprocessing';
legTitle.style.cssText = 'left:936px;top:2571px;font-size:61px;color:#000;transform:translateY(-50%);';
document.body.appendChild(legTitle);

const keyX = [940, 1481, 2017, 2604];
seriesNames.forEach((name, s) => {
  const k = document.createElement('div');
  k.style.cssText = `position:absolute;left:${keyX[s]}px;top:2631px;width:78px;height:80px;` +
    `background:${fillColors[s]};border:4px solid ${lineColors[s]};`;
  document.body.appendChild(k);
  const lab = document.createElement('div');
  lab.className = 't';
  lab.textContent = name;
  lab.style.cssText = `left:${keyX[s] + 104}px;top:2671px;font-size:49px;color:#000;transform:translateY(-50%);`;
  document.body.appendChild(lab);
});
</script>
</body>
</html>
